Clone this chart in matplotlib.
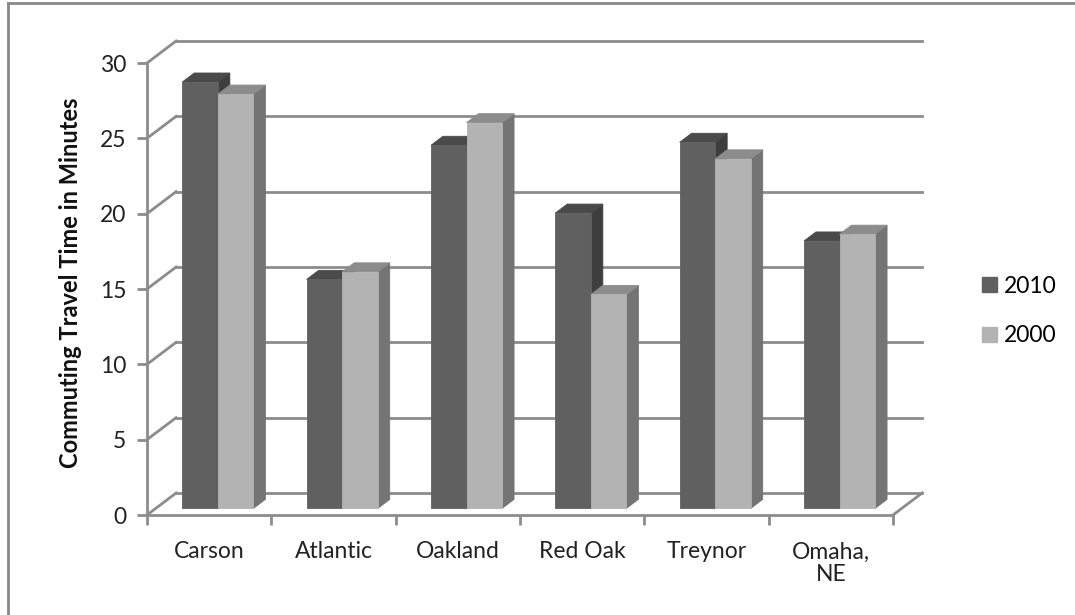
import matplotlib
matplotlib.use("Agg")
import matplotlib.pyplot as plt
from matplotlib.patches import Polygon, Patch

plt.rcParams['font.family'] = ['Lato', 'DejaVu Sans']

# commuting times (minutes)
towns = ["Carson", "Atlantic", "Oakland", "Red Oak", "Treynor", "Omaha,\nNE"]
years = ["2010", "2000"]
t2010 = [28.3, 15.2, 24.1, 19.6, 24.3, 17.75]
t2000 = [27.5, 15.7, 25.6, 14.2, 23.2, 18.2]
yticks = [0, 5, 10, 15, 20, 25, 30]

# front, side, top shades for each series
shades = {"2010": ("#606060", "#3e3e3e", "#4a4a4a"),
          "2000": ("#b3b3b3", "#747474", "#8c8c8c")}
grid_col = "#8c8c8c"
fs = 16.5

fig = plt.figure(figsize=(10.75, 6.15), dpi=100)
ax = fig.add_axes([147/1075, 100/615, 746/1075, 452/615])
ax.set_xlim(0, 6)
ax.set_ylim(0, 30)

# depth of the 3d box in data units
dx, dy = 0.234, 1.46

# back wall gridlines and left wall diagonals
for v in yticks:
    ax.plot([dx, 6 + dx], [v + dy, v + dy], color=grid_col, lw=2, clip_on=False, zorder=1)
    ax.plot([0, dx], [v, v + dy], color=grid_col, lw=2, clip_on=False, zorder=1)
# floor right edge
ax.plot([6, 6 + dx], [0, dy], color=grid_col, lw=2, clip_on=False, zorder=1)

def bar3d(x0, w, h, d0, d1, cols):
    front, side, top = cols
    fx, fy = d0 * dx, d0 * dy
    bx, by = d1 * dx, d1 * dy
    pts_front = [(x0 + fx, fy), (x0 + w + fx, fy), (x0 + w + fx, h + fy), (x0 + fx, h + fy)]
    pts_side = [(x0 + w + fx, fy), (x0 + w + bx, by), (x0 + w + bx, h + by), (x0 + w + fx, h + fy)]
    pts_top = [(x0 + fx, h + fy), (x0 + w + fx, h + fy), (x0 + w + bx, h + by), (x0 + bx, h + by)]
    for pts, c in ((pts_side, side), (pts_top, top), (pts_front, front)):
        ax.add_patch(Polygon(pts, closed=True, facecolor=c, edgecolor=c,
                             lw=0.6, clip_on=False, zorder=2))

bw = 0.286
for i in range(len(towns)):
    c = i + 0.5
    bar3d(c - bw, bw, t2010[i], 0.3, 0.71, shades["2010"])
    bar3d(c, bw, t2000[i], 0.3, 0.71, shades["2000"])

# axes lines and ticks
for s in ["top", "right"]:
    ax.spines[s].set_visible(False)
for s in ["left", "bottom"]:
    ax.spines[s].set_color(grid_col)
    ax.spines[s].set_linewidth(2)
ax.set_yticks(yticks)
ax.set_yticklabels([str(v) for v in yticks], fontsize=fs, color="#222222")
ax.tick_params(axis="y", length=7, width=2, color=grid_col, pad=8)
ax.set_xticks(range(7))
ax.set_xticklabels([])
ax.tick_params(axis="x", which="major", length=7, width=2, color=grid_col)
ax.set_xticks([i + 0.5 for i in range(6)], minor=True)
ax.set_xticklabels(towns, minor=True, fontsize=fs, color="#222222", linespacing=1.1)
ax.tick_params(axis="x", which="minor", length=0, pad=19)

fig.text(71/1075, 1 - 283/615, "Commuting Travel Time in Minutes", rotation=90,
         fontsize=17, fontweight="bold", ha="center", va="center", color="#111111")

handles = [Patch(facecolor=shades[y][0], edgecolor=shades[y][0]) for y in years]
fig.legend(handles, years, loc="center left", bbox_to_anchor=(982/1075, 1 - 311/615),
           frameon=False, fontsize=fs, handlelength=0.65, handleheight=0.65,
           handletextpad=0.3, labelspacing=1.25, borderpad=0, borderaxespad=0)

# chart frame (top and left edges)
fig.add_artist(plt.Line2D([8/1075, 8/1075], [0, 1 - 3/615], color="#888888", lw=2))
fig.add_artist(plt.Line2D([8/1075, 1], [1 - 3/615, 1 - 3/615], color="#888888", lw=2))

fig.savefig("out.png", dpi=100)
